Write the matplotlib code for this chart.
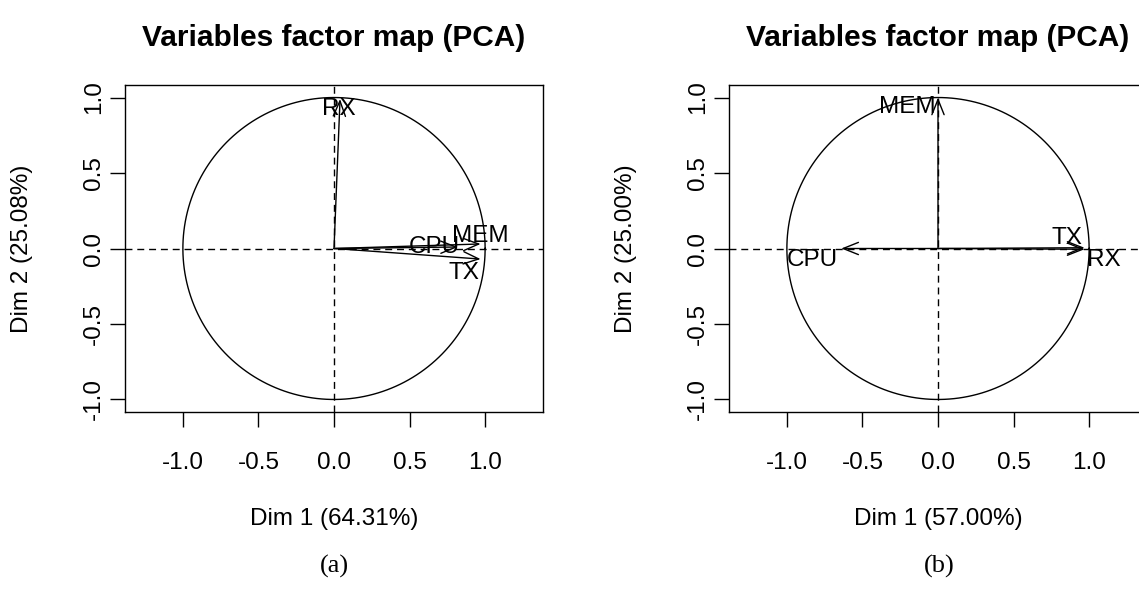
import matplotlib
matplotlib.use("Agg")
import matplotlib.pyplot as plt
import numpy as np

# ---- data ----
vars_a = ["RX", "MEM", "CPU", "TX"]
dim1_a = [0.04, 0.97, 0.82, 0.97]
dim2_a = [0.99, 0.03, 0.01, -0.07]
xlab_a = "Dim 1 (64.31%)"
ylab_a = "Dim 2 (25.08%)"

vars_b = ["MEM", "TX", "RX", "CPU"]
dim1_b = [0.0, 0.97, 0.97, -0.64]
dim2_b = [1.0, 0.005, -0.005, 0.0]
xlab_b = "Dim 1 (57.00%)"
ylab_b = "Dim 2 (25.00%)"

title = "Variables factor map (PCA)"
ticks = [-1.0, -0.5, 0.0, 0.5, 1.0]
captions = ["(a)", "(b)"]

# label offsets in points (style)
offs_a = [(-1, -7), (0, 6), (-17, 0), (-12, -10)]
offs_b = [(-22, -7), (-13, 7), (14, -8), (-21, -8)]

plt.rcParams['font.family'] = ['Liberation Sans', 'DejaVu Sans']

W, H = 1139, 608
fig = plt.figure(figsize=(W / 100, H / 100), dpi=100)


def px_axes(left, top, right, bottom):
    return fig.add_axes([left / W, 1 - bottom / H, (right - left) / W, (bottom - top) / H])


FS = 17.5


def draw(ax, names, d1, d2, offs, xl, yl):
    t = np.linspace(0, 2 * np.pi, 400)
    ax.plot(np.cos(t), np.sin(t), color='black', lw=1.0)
    ax.axhline(0, color='black', lw=1.0, ls=(0, (5, 3.5)))
    ax.axvline(0, color='black', lw=1.0, ls=(0, (5, 3.5)))
    for n, x, y, o in zip(names, d1, d2, offs):
        ax.annotate('', xy=(x, y), xytext=(0, 0),
                    arrowprops=dict(arrowstyle='->,head_length=0.5,head_width=0.2',
                                    mutation_scale=22, lw=1.0, color='black',
                                    shrinkA=0, shrinkB=0))
        ax.annotate(n, xy=(x, y), xytext=o, textcoords='offset points',
                    ha='center', va='center', fontsize=FS)
    ax.set_xlim(-1.383, 1.383)
    ax.set_ylim(-1.083, 1.083)
    ax.set_xticks(ticks)
    ax.set_yticks(ticks)
    ax.set_xticklabels([f"{v:.1f}" for v in ticks])
    ax.set_yticklabels([f"{v:.1f}" for v in ticks], rotation=90, va='center')
    ax.tick_params(direction='out', length=10.5, width=1.0, labelsize=FS)
    ax.tick_params(axis='x', pad=18)
    ax.tick_params(axis='y', pad=4)
    for s in ax.spines.values():
        s.set_linewidth(1.0)
    ax.set_xlabel(xl, fontsize=FS, va='center')
    ax.xaxis.set_label_coords(0.5, (412 - 519) / 327)
    ax.set_ylabel(yl, fontsize=FS, va='center', ha='center')
    ax.yaxis.set_label_coords(-103 / 418, 0.5)
    ax.set_title(title, fontsize=21.5, fontweight='bold', y=1 + (85 - 38) / 327, va='center', pad=0)


ax1 = px_axes(125, 85, 543, 412)
draw(ax1, vars_a, dim1_a, dim2_a, offs_a, xlab_a, ylab_a)
ax2 = px_axes(729, 85, 1147, 412)
draw(ax2, vars_b, dim1_b, dim2_b, offs_b, xlab_b, ylab_b)

fig.text(334 / W, 1 - 566 / H, captions[0], ha='center', va='center', fontsize=19,
         family=['Liberation Serif', 'DejaVu Serif'])
fig.text(939 / W, 1 - 566 / H, captions[1], ha='center', va='center', fontsize=19,
         family=['Liberation Serif', 'DejaVu Serif'])

fig.savefig("out.png", dpi=100)
